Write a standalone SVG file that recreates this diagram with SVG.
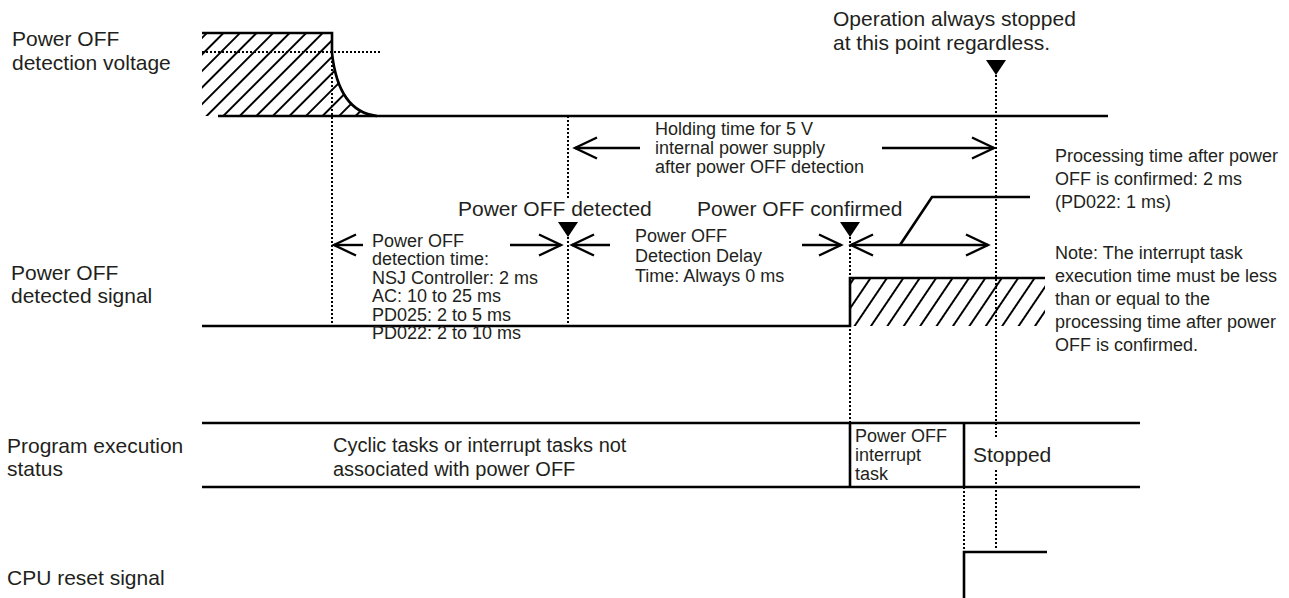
<svg xmlns="http://www.w3.org/2000/svg" width="1289" height="598" viewBox="0 0 1289 598">
<style>
text{font-family:"Liberation Sans",Arial,Helvetica,sans-serif;fill:#231f20}
.lbl{font-size:21px}
.ann{font-size:18px}
.sig{fill:none;stroke:#000;stroke-width:2.6}
.dot{fill:none;stroke:#000;stroke-width:2;stroke-dasharray:2 2}
.arr{fill:none;stroke:#000;stroke-width:2.4;marker-end:url(#ah)}
.arr2{fill:none;stroke:#000;stroke-width:2.4;marker-end:url(#ah);marker-start:url(#ahs)}
.tri{fill:#000}
.hl{stroke:#000;stroke-width:2}
</style>
<defs>
<marker id="ah" markerUnits="userSpaceOnUse" markerWidth="30" markerHeight="30" viewBox="-26 -15 30 30" refX="0" refY="0" orient="auto"><path d="M-22,-10.5 L0,0 L-22,10.5" fill="none" stroke="#000" stroke-width="2.4"/></marker>
<marker id="ahs" markerUnits="userSpaceOnUse" markerWidth="30" markerHeight="30" viewBox="-26 -15 30 30" refX="0" refY="0" orient="auto-start-reverse"><path d="M-22,-10.5 L0,0 L-22,10.5" fill="none" stroke="#000" stroke-width="2.4"/></marker>
<pattern id="hatchA" patternUnits="userSpaceOnUse" width="11.7" height="11.7" patternTransform="rotate(45)"><line class="hl" x1="5.85" y1="-1" x2="5.85" y2="13"/></pattern>
<pattern id="hatchB" patternUnits="userSpaceOnUse" width="13.6" height="13.6" patternTransform="rotate(34)"><line class="hl" x1="6.8" y1="-1" x2="6.8" y2="15"/></pattern>
</defs>

<g id="labels">
<text class="lbl" x="12" y="46">Power OFF</text>
<text class="lbl" x="12" y="70">detection voltage</text>
<text class="lbl" x="11" y="280">Power OFF</text>
<text class="lbl" x="11" y="303">detected signal</text>
<text class="lbl" x="7" y="453">Program execution</text>
<text class="lbl" x="7" y="476">status</text>
<text class="lbl" x="7" y="585">CPU reset signal</text>
</g>

<g id="voltage">
<path d="M202,33 H332 V53 C336,90 350,113 377,116 L202,116 Z" fill="url(#hatchA)"/>
<path class="sig" d="M202,33 H332 V53 C336,90 350,113 377,116"/>
<line class="sig" x1="218" y1="116" x2="1108" y2="116"/>
<line class="dot" x1="202" y1="52" x2="380" y2="52"/>
</g>

<g id="detected-signal">
<rect x="851" y="278" width="194" height="48" fill="url(#hatchB)"/>
<path class="sig" d="M202,326 H850 V278 H1045"/>
</g>

<g id="program-status">
<line class="sig" x1="202" y1="423" x2="1140" y2="423"/>
<line class="sig" x1="202" y1="487" x2="1140" y2="487"/>
<line class="sig" x1="850" y1="423" x2="850" y2="487"/>
<line class="sig" x1="964" y1="423" x2="964" y2="487"/>
<text x="333" y="452" style="font-size:20px">Cyclic tasks or interrupt tasks not</text>
<text x="333" y="476" style="font-size:20px">associated with power OFF</text>
<text class="ann" x="855" y="442">Power OFF</text>
<text class="ann" x="855" y="461">interrupt</text>
<text class="ann" x="855" y="480">task</text>
<text class="lbl" x="973" y="462">Stopped</text>
</g>

<g id="cpu-reset">
<path class="sig" d="M964,598 V552 H1047"/>
</g>

<g id="markers">
<path class="tri" d="M986,60 H1006 L996,75 Z"/>
<path class="tri" d="M558,222 H578 L568,237 Z"/>
<path class="tri" d="M840,222 H860 L850,237 Z"/>
<text class="lbl" x="833" y="26">Operation always stopped</text>
<text class="lbl" x="833" y="50">at this point regardless.</text>
<text class="lbl" x="458" y="216">Power OFF detected</text>
<text class="lbl" x="697" y="216">Power OFF confirmed</text>
</g>

<g id="annotations">
<text class="ann" x="655" y="135">Holding time for 5 V</text>
<text class="ann" x="655" y="154">internal power supply</text>
<text class="ann" x="655" y="173">after power OFF detection</text>
<text class="ann" x="372" y="247">Power OFF</text>
<text class="ann" x="372" y="265">detection time:</text>
<text class="ann" x="372" y="284">NSJ Controller: 2 ms</text>
<text class="ann" x="372" y="302">AC: 10 to 25 ms</text>
<text class="ann" x="372" y="321">PD025: 2 to 5 ms</text>
<text class="ann" x="372" y="339">PD022: 2 to 10 ms</text>
<text class="ann" x="635" y="242">Power OFF</text>
<text class="ann" x="635" y="262">Detection Delay</text>
<text class="ann" x="635" y="282">Time: Always 0 ms</text>
<text class="ann" x="1055" y="162">Processing time after power</text>
<text class="ann" x="1055" y="185">OFF is confirmed: 2 ms</text>
<text class="ann" x="1055" y="208">(PD022: 1 ms)</text>
<text class="ann" x="1055" y="259">Note: The interrupt task</text>
<text class="ann" x="1055" y="282">execution time must be less</text>
<text class="ann" x="1055" y="305">than or equal to the</text>
<text class="ann" x="1055" y="328">processing time after power</text>
<text class="ann" x="1055" y="351">OFF is confirmed.</text>
</g>

<g id="connectors">
<line class="dot" x1="332" y1="53" x2="332" y2="326"/>
<line class="dot" x1="568" y1="116" x2="568" y2="198"/>
<line class="dot" x1="568" y1="237" x2="568" y2="326"/>
<line class="dot" x1="850" y1="237" x2="850" y2="423"/>
<line class="dot" x1="996" y1="75" x2="996" y2="437"/>
<line class="dot" x1="996" y1="470" x2="996" y2="548"/>
<line class="dot" x1="964" y1="487" x2="964" y2="552"/>
<line class="arr" x1="363" y1="245" x2="334" y2="245"/>
<line class="arr" x1="510" y1="245" x2="561" y2="245"/>
<line class="arr" x1="610" y1="245" x2="572" y2="245"/>
<line class="arr" x1="802" y1="245" x2="841" y2="245"/>
<line class="arr2" x1="851" y1="245" x2="988" y2="245"/>
<line class="arr" x1="640" y1="148" x2="575" y2="148"/>
<line class="arr" x1="882" y1="148" x2="994" y2="148"/>
<polyline class="sig" points="900,245 932,197 1030,197"/>
</g>
</svg>
